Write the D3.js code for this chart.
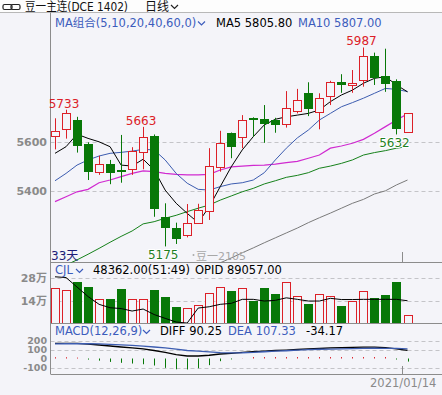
<!DOCTYPE html>
<html>
<head>
<meta charset="utf-8">
<script src="https://cdn.jsdelivr.net/npm/d3@7"></script>
<style>
  html, body { margin: 0; padding: 0; background: #f4f4f9; }
  svg { display: block; }
  text { font-family: "DejaVu Sans", "Noto Sans CJK SC", sans-serif; }
</style>
</head>
<body>
<div class="chart"></div>
<script>
// daily bars, soybean No.1 main contract, last day 2021/01/14
var open  = [5627,5654,5691,5593,5479,5511,5487,5490,5560,5627,5295,5251,5222,5272,5321,5498,5637,5620,5699,5694,5691,5675,5729,5802,5724,5790,5845,5834,5854,5952,5871,5851,5643];
var close = [5646,5720,5586,5479,5511,5476,5479,5566,5623,5328,5250,5204,5271,5324,5503,5596,5582,5691,5691,5676,5669,5740,5773,5737,5780,5845,5834,5842,5952,5864,5837,5653,5718];
var high  = [5698,5733,5704,5600,5545,5528,5630,5580,5663,5632,5351,5272,5348,5349,5576,5647,5640,5711,5702,5752,5700,5809,5818,5845,5800,5851,5878,5895,5987,5966,5982,5857,5718];
var low   = [5571,5615,5558,5446,5467,5429,5435,5467,5490,5296,5175,5185,5212,5270,5283,5480,5535,5576,5623,5598,5639,5660,5718,5707,5653,5752,5802,5802,5827,5834,5806,5632,5643];

// moving averages as shown on the chart (they start before the visible window)
var ma5  = [5555,5582,5633,5616,5602,5582,5507,5503,5531,5487,5405,5351,5310,5272,5337,5419,5500,5569,5623,5671,5694,5704,5711,5718,5732,5766,5793,5813,5841,5861,5868,5834,5806];
var ma10 = [5443,5473,5507,5528,5544,5555,5559,5564,5571,5569,5528,5473,5433,5408,5405,5419,5430,5435,5446,5476,5528,5576,5618,5650,5691,5718,5745,5762,5780,5800,5820,5816,5807];
var ma20 = [5358,5378,5398,5408,5435,5446,5460,5473,5483,5480,5473,5469,5467,5467,5469,5487,5500,5503,5506,5507,5511,5517,5522,5535,5548,5576,5585,5596,5612,5637,5664,5691,5716];
var ma40 = [5079,5099,5120,5143,5167,5192,5216,5238,5267,5276,5290,5302,5317,5331,5344,5364,5381,5398,5412,5430,5443,5457,5465,5476,5494,5503,5514,5528,5548,5558,5566,5576,5582];
var ma60 = [null,null,null,null,null,null,null,null,null,null,null,null,null,null,5087,5108,5128,5149,5169,5190,5210,5230,5250,5272,5292,5311,5331,5351,5367,5389,5402,5426,5446];

// volume (CJL) and open interest (OPID)
var volume = [216900,204300,258600,225100,149500,149500,212500,149500,149500,206200,162100,100900,90800,111600,185400,226900,199900,216900,136800,216900,181000,258600,170300,116000,179100,170300,105300,136800,199900,153900,174700,254700,48362];
var opid = [113000,112260,102760,93260,85460,82060,81260,78760,80760,75260,71460,67760,66760,81760,83060,85460,86460,90460,90460,88760,89460,91960,90460,88760,88760,91460,90260,90260,90460,90460,90460,90460,89057];

// MACD(12,26,9)
var diff = [169,169,167,161,150,139,128,117,106,89,67,44,28,28,36,50,58,67,76,83,89,94,100,106,111,117,121,124,126,126,121,106,90.25];
var dea  = [163,164,164,165,162,158,152,145,138,128,119,104,89,82,73,65,63,64,68,75,81,86,92,98,103,104,107,110,113,115,113,111.6,107.33];
var hist = [14,14,10,-12,-24,-38,-48,-56,-64,-78,-104,-120,-122,-108,-74,-30,-10,2,16,16,16,16,16,16,16,16,16,16,16,16,16,-11,-34.17];

// high / low markers
var marks = [{i: 1, type: "high"}, {i: 8, type: "high"}, {i: 10, type: "low"}, {i: 28, type: "high"}, {i: 31, type: "low"}];

var priceTicks = [5400, 5600];
var volTicks = [140000, 280000];
var volTickLabels = ["14万", "28万"];
var macdTicks = [200, 100, 0, -100];

var RED = "#dc2028", GREEN = "#087808", BLUE = "#3c5cbc", GREY = "#8a8a8a";

var width = 442, height = 395;
var left = 50.5, right = 442;
var main = {top: 12.5, bottom: 262.5};
var vol = {top: 262.5, bottom: 323};
var mac = {top: 323, bottom: 374};

var svg = d3.select(".chart").append("svg")
  .attr("width", width).attr("height", height);

svg.append("rect").attr("width", width).attr("height", height).attr("fill", "#f4f4f9");
svg.append("rect").attr("width", width).attr("height", 12).attr("fill", "#fdfdfd");

var x = d3.scaleLinear().domain([0, open.length - 1]).range([55, 407.5]);
var y = d3.scaleLinear().domain([5400, 5600]).range([191.3, 142.3]);
var yVol = d3.scaleLinear().domain([0, 280000]).range([322.7, 278.3]);
var yOpi = d3.scaleLinear().domain([60000, 120000]).range([329.8, 269.8]);
var yMacd = d3.scaleLinear().domain([-100, 200]).range([367.5, 340.5]);

var defs = svg.append("defs");
function clip(id, p) {
  defs.append("clipPath").attr("id", id).append("rect")
    .attr("x", left).attr("y", p.top).attr("width", right - left).attr("height", p.bottom - p.top);
}
clip("cMain", main); clip("cVol", vol); clip("cMac", mac);

// gridlines
function grid(vals, scale) {
  svg.append("g").selectAll("line").data(vals).join("line")
    .attr("x1", left).attr("x2", right)
    .attr("y1", function(d) { return Math.round(scale(d)) + 0.5; })
    .attr("y2", function(d) { return Math.round(scale(d)) + 0.5; })
    .attr("stroke", "#c4c4c8").attr("stroke-dasharray", "4,3");
}
grid(priceTicks, y);
grid(volTicks, yVol);
grid([200, 100, -100], yMacd);

// axis labels
function axisLabels(vals, scale, labels, size, dy) {
  svg.append("g").selectAll("text").data(vals).join("text")
    .attr("x", 47).attr("y", function(d) { return scale(d) + dy; })
    .attr("text-anchor", "end").attr("fill", GREY)
    .attr("font-size", size).attr("font-weight", "bold")
    .text(function(d, i) { return labels ? labels[i] : d; });
}
axisLabels(priceTicks, y, null, 11, 4);
axisLabels(volTicks, yVol, volTickLabels, 11, 4);
axisLabels(macdTicks, yMacd, null, 9.5, 3.5);

// frame lines
var frame = svg.append("g").attr("stroke", "#8c8c8c").attr("fill", "none");
frame.append("line").attr("x1", 0).attr("x2", width).attr("y1", 12.5).attr("y2", 12.5).attr("stroke", "#b8b8b8");
frame.append("line").attr("x1", left).attr("x2", left).attr("y1", 12.5).attr("y2", mac.bottom);
frame.append("line").attr("x1", left).attr("x2", right).attr("y1", main.bottom).attr("y2", main.bottom);
frame.append("line").attr("x1", left).attr("x2", right).attr("y1", vol.bottom + 0.5).attr("y2", vol.bottom + 0.5);
frame.append("line").attr("x1", left).attr("x2", right).attr("y1", mac.bottom + 0.5).attr("y2", mac.bottom + 0.5);
frame.append("line").attr("x1", 402.5).attr("x2", 402.5).attr("y1", 252).attr("y2", main.bottom);
frame.append("line").attr("x1", 402.5).attr("x2", 402.5).attr("y1", 366).attr("y2", mac.bottom + 1);

// moving average lines
var gMain = svg.append("g").attr("clip-path", "url(#cMain)");
var maLines = [
  {vals: ma60, color: "#7a7a7a", w: 1},
  {vals: ma40, color: "#15801a", w: 1},
  {vals: ma20, color: "#d02ad0", w: 1.2},
  {vals: ma10, color: "#3c5cb0", w: 1},
  {vals: ma5, color: "#000000", w: 1}
];
maLines.forEach(function(m) {
  var line = d3.line()
    .defined(function(d) { return d != null; })
    .x(function(d, i) { return x(i); })
    .y(function(d) { return y(d); });
  gMain.append("path").datum(m.vals)
    .attr("d", line).attr("fill", "none")
    .attr("stroke", m.color).attr("stroke-width", m.w);
});

// candles
var candles = gMain.append("g").selectAll("g").data(open).join("g");
candles.each(function(o, i) {
  var g = d3.select(this);
  var cx = Math.round(x(i));
  var up = close[i] >= o;
  var col = up ? RED : GREEN;
  var top = Math.round(y(Math.max(o, close[i])));
  var bot = Math.round(y(Math.min(o, close[i])));
  g.append("line").attr("x1", cx + 0.5).attr("x2", cx + 0.5)
    .attr("y1", y(high[i])).attr("y2", top).attr("stroke", col);
  g.append("line").attr("x1", cx + 0.5).attr("x2", cx + 0.5)
    .attr("y1", bot).attr("y2", y(low[i])).attr("stroke", col);
  if (up) {
    g.append("rect").attr("x", cx - 3.5).attr("y", top + 0.5)
      .attr("width", 8).attr("height", Math.max(bot - top, 1))
      .attr("fill", "#f4f4f9").attr("stroke", col);
  } else {
    g.append("rect").attr("x", cx - 4).attr("y", top)
      .attr("width", 9).attr("height", Math.max(bot - top, 2))
      .attr("fill", col);
  }
});

// high / low labels
svg.append("g").selectAll("text").data(marks).join("text")
  .attr("x", function(d) { return x(d.i) - 2; })
  .attr("y", function(d) { return d.type == "high" ? y(high[d.i]) - 2 : y(low[d.i]) + 13; })
  .attr("text-anchor", "middle").attr("font-size", 12)
  .attr("fill", function(d) { return d.type == "high" ? RED : "#1f7f1f"; })
  .attr("stroke", function(d) { return d.type == "high" ? "none" : "#ffffff"; })
  .attr("stroke-width", 2).attr("paint-order", "stroke")
  .text(function(d) { return d.type == "high" ? high[d.i] : low[d.i]; });

svg.append("text").attr("x", 51).attr("y", 260).attr("font-size", 12)
  .attr("fill", "#1c1c78").text("33天");
svg.append("circle").attr("cx", 193.5).attr("cy", 255).attr("r", 1).attr("fill", "#aaa");
svg.append("text").attr("x", 196).attr("y", 260).attr("font-size", 11)
  .attr("fill", "#a8a8a8").text("豆一2105");

// volume bars
var gVol = svg.append("g").attr("clip-path", "url(#cVol)");
gVol.selectAll("rect").data(volume).join("rect")
  .attr("x", function(d, i) { return Math.round(x(i)) - (close[i] >= open[i] ? 3.5 : 4); })
  .attr("y", function(d, i) { return Math.round(yVol(d)) + (close[i] >= open[i] ? 0.5 : 0); })
  .attr("width", function(d, i) { return close[i] >= open[i] ? 8 : 9; })
  .attr("height", function(d) { return yVol(0) - Math.round(yVol(d)) + 2; })
  .attr("fill", function(d, i) { return close[i] >= open[i] ? "#f4f4f9" : GREEN; })
  .attr("stroke", function(d, i) { return close[i] >= open[i] ? RED : "none"; });

gVol.append("path").datum(opid)
  .attr("d", d3.line().x(function(d, i) { return x(i); }).y(function(d) { return yOpi(d); }))
  .attr("fill", "none").attr("stroke", "#000").attr("stroke-width", 1);

// MACD
var gMac = svg.append("g").attr("clip-path", "url(#cMac)");
gMac.selectAll("line").data(hist).join("line")
  .attr("x1", function(d, i) { return Math.round(x(i)) + 0.5; })
  .attr("x2", function(d, i) { return Math.round(x(i)) + 0.5; })
  .attr("y1", yMacd(0)).attr("y2", function(d) { return yMacd(d); })
  .attr("stroke", function(d) { return d >= 0 ? RED : GREEN; });
[{vals: diff, color: "#000"}, {vals: dea, color: "#3c5cb0"}].forEach(function(m) {
  gMac.append("path").datum(m.vals)
    .attr("d", d3.line().x(function(d, i) { return x(i); }).y(function(d) { return yMacd(d); }))
    .attr("fill", "none").attr("stroke", m.color).attr("stroke-width", 1.3);
});

// legends
function chevron(px, py, col) {
  svg.append("path").attr("d", "M" + px + "," + py + " l3.5,3.5 l3.5,-3.5")
    .attr("fill", "none").attr("stroke", col).attr("stroke-width", 1.2);
}
function label(tx, ty, str, col, size) {
  return svg.append("text").attr("x", tx).attr("y", ty)
    .attr("font-size", size || 11.5).attr("fill", col).text(str);
}
label(55, 27, "MA组合(5,10,20,40,60,0)", BLUE, 11.5);
chevron(198, 21.5, BLUE);
label(216, 27, "MA5 5805.80", "#000");
label(298, 27, "MA10 5807.00", BLUE);

label(55, 274, "CJL", BLUE);
chevron(76, 269, BLUE);
label(93, 274, "48362.00(51:49)", "#000");
label(195, 274, "OPID 89057.00", "#000");

label(55, 335, "MACD(12,26,9)", BLUE);
chevron(143, 330, BLUE);
label(160, 335, "DIFF 90.25", "#000");
label(228, 335, "DEA 107.33", BLUE);
label(306, 335, "-34.17", "#000");

label(370, 387, "2021/01/14", GREY, 11.5);

// header
var icon = svg.append("g").attr("fill", "none").attr("stroke", "#222").attr("stroke-width", 1.2);
icon.append("rect").attr("x", 3).attr("y", 4.5).attr("width", 9).attr("height", 5).attr("rx", 1.5);
icon.append("rect").attr("x", 11).attr("y", 4.5).attr("width", 9).attr("height", 5).attr("rx", 1.5);
svg.append("text").attr("x", 25).attr("y", 11).attr("font-size", 12)
  .attr("font-family", "Noto Sans CJK SC").attr("fill", "#111")
  .attr("textLength", 103).attr("lengthAdjust", "spacingAndGlyphs")
  .text("豆一主连(DCE 1402)");
svg.append("text").attr("x", 145).attr("y", 11).attr("font-size", 12)
  .attr("font-family", "Noto Sans CJK SC").attr("fill", "#111").text("日线");
chevron(171, 5, "#222");
</script>
</body>
</html>
